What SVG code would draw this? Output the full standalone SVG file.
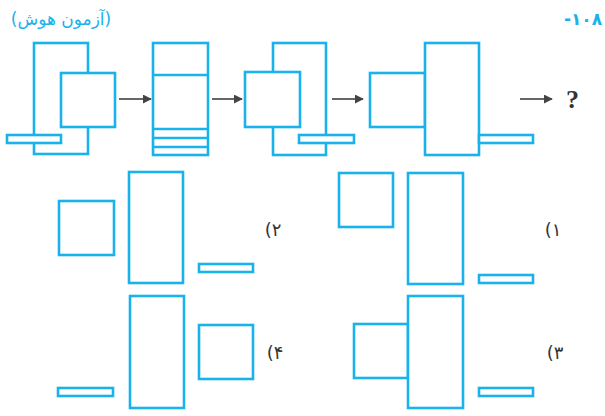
<svg xmlns="http://www.w3.org/2000/svg" width="605" height="416" viewBox="0 0 605 416">
<style>
.b{fill:#fff;stroke:#19b2ea;stroke-width:2.6}
.l{fill:none;stroke:#19b2ea;stroke-width:2.6}
.a{stroke:#555;stroke-width:1.8;fill:none}
.lab{font-family:"DejaVu Sans",sans-serif;font-size:18px;fill:#333;text-anchor:middle}
</style>
<defs>
<marker id="ah" viewBox="0 0 10 10" refX="9" refY="5" markerWidth="9" markerHeight="9" markerUnits="userSpaceOnUse" orient="auto"><path d="M0,0 L10,5 L0,10 Z" fill="#444"/></marker>
</defs>
<rect width="605" height="416" fill="#fff"/>
<text x="61" y="25" font-family="'DejaVu Sans',sans-serif" font-size="17" fill="#19b2ea" text-anchor="middle" direction="rtl">(آزمون هوش)</text>
<text x="583" y="25" font-family="'DejaVu Sans',sans-serif" font-size="17" font-weight="bold" fill="#19b2ea" text-anchor="middle">-۱۰۸</text>
<g id="fig1">
<rect class="b" x="34" y="43" width="54" height="111"/>
<rect class="b" x="61" y="73" width="54" height="54"/>
<rect class="b" x="7" y="135" width="54" height="8"/>
</g>
<g id="fig2">
<rect class="b" x="153" y="43" width="55" height="112"/>
<line class="l" x1="153" y1="75" x2="208" y2="75"/>
<line class="l" x1="153" y1="129" x2="208" y2="129"/>
<line class="l" x1="153" y1="138" x2="208" y2="138"/>
<line class="l" x1="153" y1="147" x2="208" y2="147"/>
</g>
<g id="fig3">
<rect class="b" x="273" y="43" width="53" height="112"/>
<rect class="b" x="245" y="72" width="55" height="55"/>
<rect class="b" x="299" y="135" width="55" height="8"/>
</g>
<g id="fig4">
<rect class="b" x="370" y="73" width="55" height="54"/>
<rect class="b" x="425" y="43" width="54" height="112"/>
<rect class="b" x="479" y="135" width="54" height="8"/>
</g>
<g id="connectors">
<line class="a" x1="119" y1="99" x2="151" y2="99" marker-end="url(#ah)"/>
<line class="a" x1="212" y1="99" x2="242" y2="99" marker-end="url(#ah)"/>
<line class="a" x1="332" y1="99" x2="363" y2="99" marker-end="url(#ah)"/>
<line class="a" x1="520" y1="99" x2="552" y2="99" marker-end="url(#ah)"/>
</g>
<text x="566" y="108" font-family="'Liberation Serif',serif" font-size="26" font-weight="bold" fill="#333">?</text>
<g id="opt2">
<rect class="b" x="59" y="201" width="55" height="54"/>
<rect class="b" x="129" y="172" width="54" height="111"/>
<rect class="b" x="199" y="264" width="54" height="8"/>
<text class="lab" x="273" y="236">(۲</text>
</g>
<g id="opt1">
<rect class="b" x="339" y="173" width="54" height="54"/>
<rect class="b" x="408" y="173" width="55" height="111"/>
<rect class="b" x="479" y="275" width="54" height="8"/>
<text class="lab" x="553" y="236">(۱</text>
</g>
<g id="opt4">
<rect class="b" x="58" y="388" width="55" height="8"/>
<rect class="b" x="130" y="296" width="54" height="112"/>
<rect class="b" x="199" y="325" width="54" height="54"/>
<text class="lab" x="275" y="359">(۴</text>
</g>
<g id="opt3">
<rect class="b" x="354" y="324" width="54" height="54"/>
<rect class="b" x="408" y="296" width="55" height="112"/>
<rect class="b" x="479" y="388" width="54" height="8"/>
<text class="lab" x="555" y="359">(۳</text>
</g>
</svg>
